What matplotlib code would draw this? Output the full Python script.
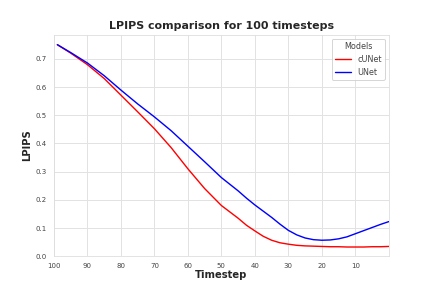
import matplotlib
matplotlib.use("Agg")
import matplotlib.pyplot as plt
import seaborn as sns

timesteps = [99, 95, 90, 85, 80, 75, 70, 65, 60, 55, 50, 45, 42.5, 40, 37.5, 35, 32.5, 30, 27.5, 25, 22.5, 20, 17.5, 15, 12.5, 10, 7.5, 5, 2.5, 0]
cunet = [0.750, 0.720, 0.679, 0.630, 0.571, 0.512, 0.452, 0.385, 0.310, 0.240, 0.180, 0.135, 0.110, 0.090, 0.071, 0.057, 0.048, 0.043, 0.039, 0.037, 0.036, 0.035, 0.034, 0.034, 0.033, 0.033, 0.033, 0.034, 0.034, 0.035]
unet = [0.750, 0.722, 0.685, 0.640, 0.589, 0.540, 0.494, 0.445, 0.390, 0.335, 0.279, 0.232, 0.206, 0.182, 0.160, 0.138, 0.114, 0.092, 0.076, 0.065, 0.059, 0.057, 0.058, 0.062, 0.069, 0.080, 0.091, 0.102, 0.113, 0.123]
xticks = [100, 90, 80, 70, 60, 50, 40, 30, 20, 10]

sns.set_style("whitegrid")
plt.rcParams['font.family'] = ['DejaVu Sans']

fig, ax = plt.subplots(figsize=(6, 4), dpi=72)
ax.plot(timesteps, cunet, color='red', lw=1.4, label='cUNet')
ax.plot(timesteps, unet, color='blue', lw=1.4, label='UNet')
ax.set_xlim(100, 0)
ax.set_ylim(bottom=0)
ax.set_xticks(xticks)
ax.grid(color='#e2e2e2', lw=1.0)
for s in ax.spines.values():
    s.set_color('#dddddd')
ax.tick_params(labelsize=7, colors='#444444')
ax.set_xlabel('Timestep', fontsize=10, fontweight='bold', labelpad=1, color='#262626')
ax.set_ylabel('LPIPS', fontsize=10, fontweight='bold', color='#262626')
ax.set_title('LPIPS comparison for 100 timesteps', fontsize=11, fontweight='bold', color='#262626')
leg = ax.legend(title='Models', loc='upper right', fontsize=8, title_fontsize=8)
for t in leg.get_texts():
    t.set_color('#444444')
leg.get_title().set_color('#444444')
fig.savefig('out.png', dpi=72)
